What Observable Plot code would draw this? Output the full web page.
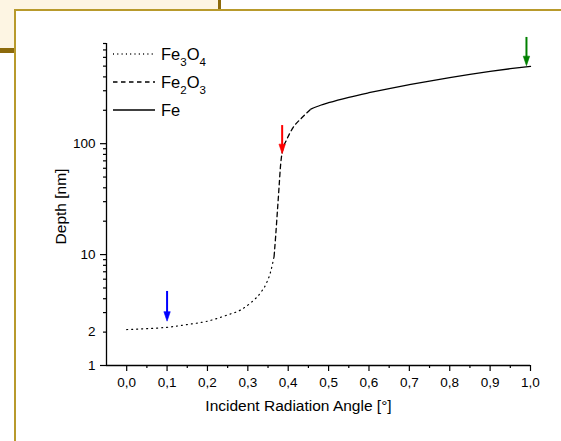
<!DOCTYPE html>
<html>
<head>
<meta charset="utf-8">
<script src="https://cdn.jsdelivr.net/npm/d3@7"></script>
<script src="https://cdn.jsdelivr.net/npm/@observablehq/plot@0.6"></script>
<style>
  html, body { margin: 0; padding: 0; background: #ffffff; overflow: hidden; }
  #wrap { position: relative; width: 561px; height: 441px; overflow: hidden;
          font-family: Arial, "Liberation Sans", sans-serif; color: #000; }
  .beige { position: absolute; left: 0; top: 0; width: 218px; height: 48px; background: #fdf5e3; }
  .vbar { position: absolute; left: 217.5px; top: 0; width: 3.5px; height: 10px; background: #8c6a0c; }
  .hbar { position: absolute; left: 0; top: 47.5px; width: 15px; height: 5px; background: #8c6a0c; }
  .panel { position: absolute; left: 13.5px; top: 9px; width: 547.5px; height: 432px; background: #ffffff; }
  .topline { position: absolute; left: 13.5px; top: 9px; width: 547.5px; height: 2px; background: #b89a2c; }
  .leftline { position: absolute; left: 13.5px; top: 9px; width: 2px; height: 432px; background: #b89a2c; }
  #chart { position: absolute; left: 0; top: 0; width: 561px; height: 441px; }
  #legend { position: absolute; left: 0; top: 0; }
  .row { position: absolute; left: 113px; height: 20px; display: flex; align-items: center; }
  .row span { margin-left: 6px; font-size: 16.5px; line-height: 1; white-space: nowrap; }
  .row sub { font-size: 11.5px; vertical-align: -6px; line-height: 0; }
</style>
</head>
<body>
<div id="wrap">
  <div class="beige"></div>
  <div class="vbar"></div>
  <div class="hbar"></div>
  <div class="panel"></div>
  <div class="topline"></div>
  <div class="leftline"></div>
  <div id="chart"></div>
  <div id="legend"></div>
</div>
<script>
// ---- Data ----
const fe3o4X = [0, 0.05, 0.1, 0.15, 0.2, 0.25, 0.283, 0.307, 0.332, 0.346, 0.356, 0.365];
const fe3o4Y = [2.11, 2.15, 2.21, 2.34, 2.51, 2.86, 3.18, 3.67, 4.55, 5.51, 6.92, 9.6];

const fe2o3X = [0.365, 0.369, 0.373, 0.377, 0.381, 0.385, 0.397, 0.410, 0.435, 0.456];
const fe2o3Y = [9.6, 14.8, 24, 39, 63.4, 83.5, 110, 136, 173, 205];

const feX = [0.456, 0.48, 0.5, 0.55, 0.6, 0.65, 0.7, 0.75, 0.8, 0.85, 0.9, 0.95, 1.0];
const feY = [205, 222, 234, 262, 288, 314, 340, 367, 394, 421, 448, 474, 498];

const arrowX = [0.1, 0.385, 0.99];
const arrowTop = [4.28, 134, 835];
const arrowTip = [2.51, 81.3, 505];
const arrowColor = ["#0000ff", "#ff0000", "#008000"];

const xMajorTicks = [0, 0.1, 0.2, 0.3, 0.4, 0.5, 0.6, 0.7, 0.8, 0.9, 1.0];
const xMinorTicks = [0.05, 0.15, 0.25, 0.35, 0.45, 0.55, 0.65, 0.75, 0.85, 0.95];
const yMajorTicks = [1, 10, 100];
const yMinorTicks = [2, 3, 4, 5, 6, 7, 8, 9, 20, 30, 40, 50, 60, 70, 80, 90, 200, 300, 400, 500, 600, 700, 800];
const yLabelTicks = [1, 2, 10, 100];

const xLabel = "Incident Radiation Angle [°]";
const yLabel = "Depth [nm]";
const legendNames = [["Fe", "3", "O", "4"], ["Fe", "2", "O", "3"], ["Fe"]];

// ---- Styles ----
const DOTTED_CURVE = "1,4";
const DOTTED_KEY = "1,3.3";
const DASHED = "4.5,3.5";
const keyDash = [DOTTED_KEY, DASHED, null];

// ---- Build tables ----
const zip = (xs, ys) => xs.map((x, i) => ({x, y: ys[i]}));
const arrows = arrowX.map((x, i) => ({x, top: arrowTop[i], tip: arrowTip[i], color: arrowColor[i]}));
const fmt = d => d3.format(".1f")(d).replace(".", ",");

const arrowHead = {
  draw(context) {
    context.moveTo(0, 0);
    context.lineTo(-3.2, -9.5);
    context.lineTo(3.2, -9.5);
    context.closePath();
  }
};

const chart = Plot.plot({
  width: 561,
  height: 441,
  marginLeft: 106,
  marginRight: 31,
  marginTop: 43,
  marginBottom: 76,
  style: {background: "transparent", fontFamily: "Arial, 'Liberation Sans', sans-serif", color: "#000", overflow: "visible"},
  x: {domain: [-0.05, 1.0]},
  y: {type: "log", domain: [1, 800]},
  marks: [
    Plot.axisX({ticks: xMajorTicks, tickSize: 6, tickPadding: 6, tickFormat: fmt, fontSize: 13.5, label: null, strokeWidth: 1.2}),
    Plot.axisX({ticks: xMinorTicks, tickSize: 3, tickFormat: () => "", label: null, strokeWidth: 1.2}),
    Plot.axisY({ticks: yMajorTicks, tickSize: 6, tickFormat: () => "", label: null, strokeWidth: 1.2}),
    Plot.axisY({ticks: yMinorTicks, tickSize: 3, tickFormat: () => "", label: null, strokeWidth: 1.2}),
    Plot.axisY({ticks: yLabelTicks, tickSize: 0, tickPadding: 11, tickFormat: d => String(d), fontSize: 13.5, label: null}),
    Plot.ruleY([1], {stroke: "#000", strokeWidth: 1.3}),
    Plot.ruleX([-0.05], {stroke: "#000", strokeWidth: 1.3}),
    Plot.line(zip(fe3o4X, fe3o4Y), {x: "x", y: "y", stroke: "#000", strokeWidth: 1.2, strokeDasharray: DOTTED_CURVE, curve: "monotone-x"}),
    Plot.line(zip(fe2o3X, fe2o3Y), {x: "x", y: "y", stroke: "#000", strokeWidth: 1.3, strokeDasharray: DASHED, curve: "monotone-x"}),
    Plot.line(zip(feX, feY), {x: "x", y: "y", stroke: "#000", strokeWidth: 1.3, curve: "monotone-x"}),
    Plot.ruleX(arrows, {x: "x", y1: "top", y2: "tip", stroke: "color", strokeWidth: 2, dy: -4}),
    Plot.dot(arrows, {x: "x", y: "tip", fill: "color", stroke: "color", strokeWidth: 0.6, symbol: arrowHead}),
    Plot.text([xLabel], {frameAnchor: "bottom", textAnchor: "middle", lineAnchor: "middle", dy: 41, dx: -20, fontSize: 15.5}),
    Plot.text([yLabel], {frameAnchor: "left", textAnchor: "middle", lineAnchor: "middle", rotate: -90, dx: -45, dy: 2, fontSize: 15.5})
  ]
});
document.getElementById("chart").appendChild(chart);

// ---- Legend ----
const legend = document.getElementById("legend");
const rowCenters = [54, 82, 110];
legendNames.forEach((parts, i) => {
  const row = document.createElement("div");
  row.className = "row";
  row.style.top = (rowCenters[i] - 10) + "px";
  const svgNS = "http://www.w3.org/2000/svg";
  const svg = document.createElementNS(svgNS, "svg");
  svg.setAttribute("width", 42);
  svg.setAttribute("height", 20);
  const ln = document.createElementNS(svgNS, "line");
  ln.setAttribute("x1", 0); ln.setAttribute("x2", 42);
  ln.setAttribute("y1", 10); ln.setAttribute("y2", 10);
  ln.setAttribute("stroke", "#000");
  ln.setAttribute("stroke-width", 1.3);
  if (keyDash[i]) ln.setAttribute("stroke-dasharray", keyDash[i]);
  svg.appendChild(ln);
  row.appendChild(svg);
  const span = document.createElement("span");
  parts.forEach((p, j) => {
    if (j % 2 === 1) {
      const s = document.createElement("sub");
      s.textContent = p;
      span.appendChild(s);
    } else {
      span.appendChild(document.createTextNode(p));
    }
  });
  row.appendChild(span);
  legend.appendChild(row);
});
</script>
</body>
</html>
